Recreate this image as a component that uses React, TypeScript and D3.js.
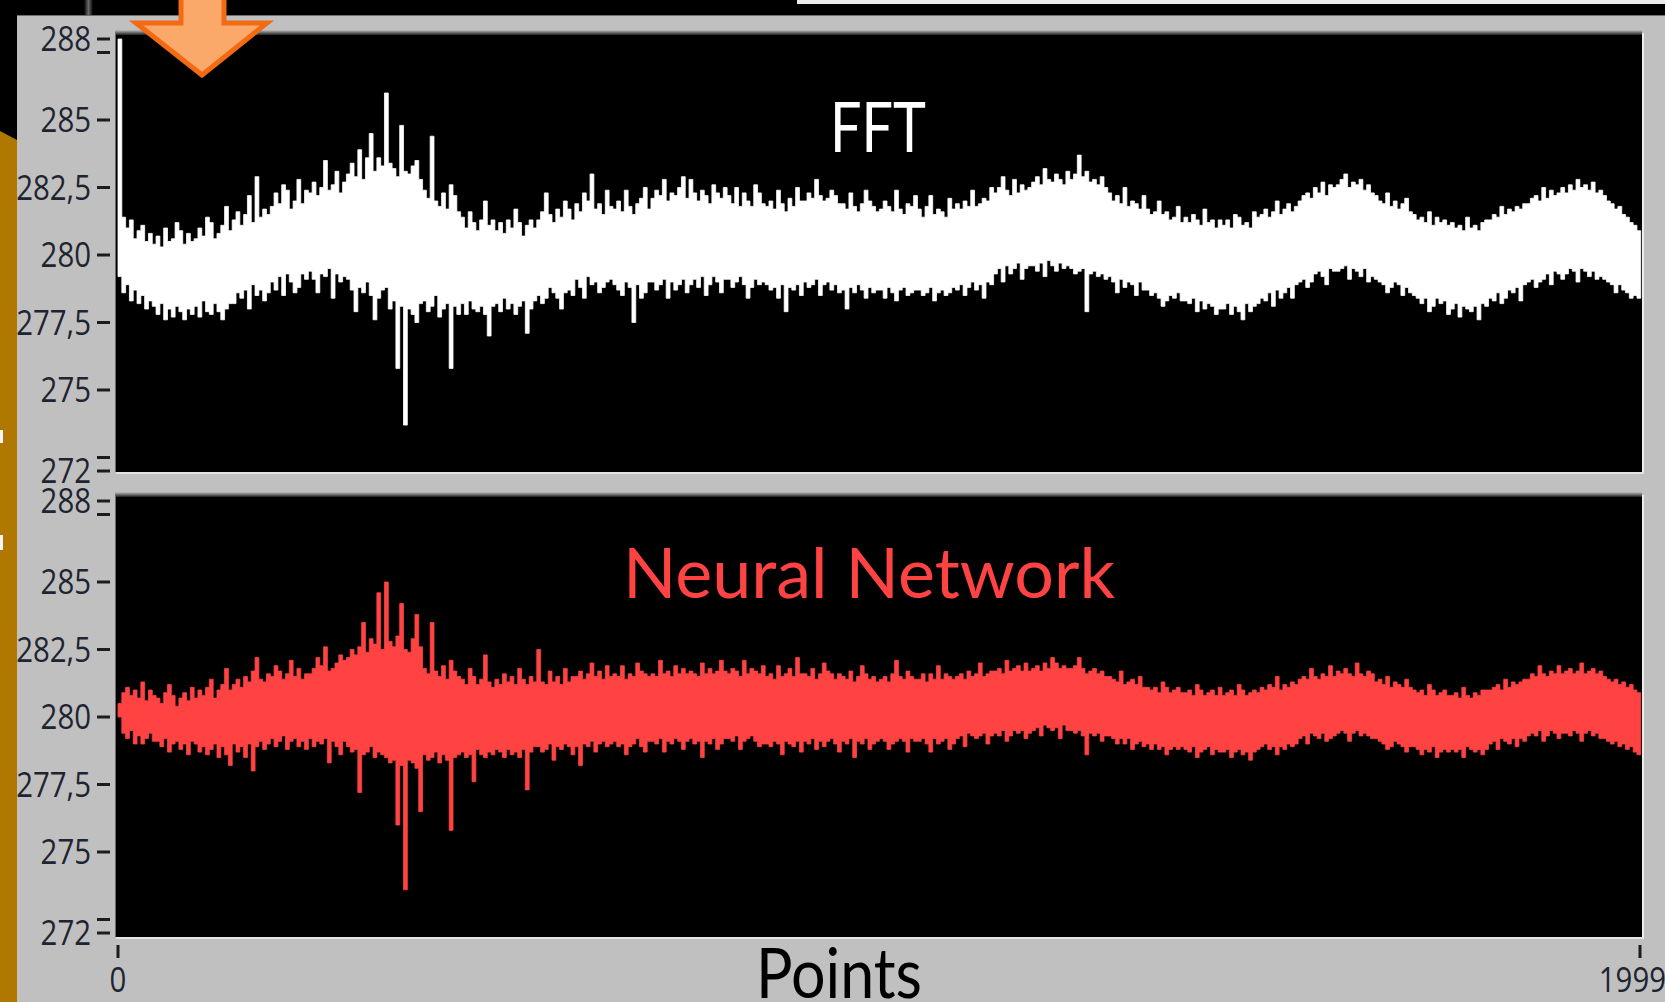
import React from 'react';
import * as d3 from 'd3';

// Each series is shown as LabVIEW draws 2000 points on ~1500 pixels:
// per bin of 5 points, the highest and lowest value.
const fftUpper: number[] = [
  288.0, 281.4, 281.0, 281.3, 280.6, 280.9, 281.1, 280.5, 280.8, 280.4,
  280.7, 280.3, 281.0, 280.5, 280.6, 281.2, 280.9, 280.4, 280.8, 280.5,
  280.6, 281.0, 280.7, 281.4, 281.2, 280.6, 280.8, 281.1, 281.8, 280.9,
  281.3, 281.6, 281.1, 281.5, 282.2, 281.2, 282.9, 281.4, 281.7, 281.5,
  281.8, 282.3, 281.9, 282.6, 282.4, 281.7, 282.0, 282.8, 281.9, 282.4,
  282.3, 282.7, 282.2, 282.5, 283.5, 282.4, 282.6, 283.1, 282.3, 282.7,
  283.0, 283.4, 282.9, 283.9, 282.8, 283.6, 284.5, 283.1, 283.6, 283.3,
  286.0, 283.4, 283.2, 282.9, 284.8, 283.1, 283.0, 283.3, 283.5, 282.8,
  282.4, 282.1, 284.4, 282.0, 281.8, 282.3, 281.7, 282.6, 282.2, 281.6,
  281.4, 281.0, 281.6, 281.2, 280.9, 281.3, 282.0, 281.1, 281.3, 280.9,
  281.2, 280.8, 281.3, 281.0, 281.7, 281.2, 280.7, 281.1, 281.3, 281.0,
  281.3, 281.6, 282.3, 281.5, 281.2, 281.7, 281.4, 282.0, 281.7, 281.3,
  281.9, 281.6, 282.3, 282.0, 283.0, 281.7, 281.9, 281.5, 282.4, 281.8,
  281.7, 282.0, 281.6, 282.4, 281.8, 281.5, 281.9, 282.1, 282.5, 281.7,
  282.1, 282.4, 282.2, 282.8, 282.0, 282.3, 282.2, 282.5, 282.9, 282.1,
  282.8, 282.3, 282.0, 282.4, 282.2, 281.9, 282.6, 282.3, 282.1, 282.5,
  282.2, 281.9, 282.5, 281.8, 282.3, 282.0, 281.8, 282.6, 282.3, 281.9,
  281.8, 282.0, 281.7, 282.4, 281.9, 281.6, 282.1, 281.8, 282.5, 282.0,
  282.0, 282.3, 282.1, 282.8, 282.2, 282.0, 282.1, 282.4, 282.2, 281.9,
  281.9, 281.7, 282.3, 281.8, 281.6, 281.9, 282.4, 282.0, 281.8, 281.6,
  281.7, 282.0, 281.8, 281.6, 282.4, 281.7, 281.5, 281.9, 281.8, 282.2,
  281.7, 281.4, 281.8, 282.2, 281.5, 281.7, 281.6, 281.4, 282.1, 281.7,
  281.9, 281.7, 282.0, 281.8, 282.4, 281.8, 281.9, 282.1, 282.0, 282.5,
  282.3, 282.5, 282.9, 282.4, 282.2, 282.8, 282.3, 282.6, 282.4, 282.5,
  282.7, 282.9, 282.6, 283.2, 282.8, 282.7, 283.0, 282.8, 282.6, 283.1,
  282.8, 283.0, 283.7, 282.9, 283.1, 282.7, 282.8, 282.6, 282.9, 282.5,
  282.3, 282.0, 282.2, 281.9, 282.5, 281.8, 282.0, 281.9, 281.7, 282.2,
  281.7, 281.5, 281.6, 282.0, 281.5, 281.6, 281.3, 281.4, 281.8, 281.2,
  281.4, 281.2, 281.5, 281.3, 281.1, 281.7, 281.2, 281.3, 281.0, 281.3,
  281.1, 281.3, 281.0, 281.5, 281.4, 281.1, 281.2, 281.0, 281.6, 281.4,
  281.5, 281.7, 281.4, 281.6, 282.0, 281.5, 281.7, 281.9, 281.6, 281.8,
  282.0, 282.2, 282.3, 282.1, 282.5, 282.3, 282.7, 282.2, 282.6, 282.5,
  282.6, 282.8, 283.0, 282.5, 282.7, 282.6, 282.8, 282.4, 282.6, 282.3,
  282.2, 282.0, 281.9, 282.3, 281.8, 282.0, 281.7, 281.9, 282.1, 281.6,
  281.5, 281.3, 281.4, 281.2, 281.6, 281.1, 281.4, 281.2, 281.3, 281.1,
  281.2, 281.0, 281.1, 280.9, 281.4, 281.0, 281.1, 280.9, 281.2, 281.3,
  281.3, 281.5, 281.4, 281.8, 281.5, 281.7, 281.6, 281.8, 281.7, 281.9,
  281.9, 282.1, 282.2, 282.0, 282.5, 282.1, 282.4, 282.2, 282.3, 282.5,
  282.3, 282.6, 282.4, 282.8, 282.5, 282.6, 282.4, 282.7, 282.3, 282.4,
  282.2, 282.0, 281.9, 281.7, 281.8, 281.5, 281.4, 281.2, 281.1, 280.9,
];

const fftLower: number[] = [
  279.2, 278.6, 278.9, 278.3, 278.7, 278.2, 278.5, 278.0, 278.3, 278.1,
  277.8, 278.2, 277.6, 278.0, 277.7, 278.1, 277.9, 277.6, 278.0, 277.8,
  278.1, 277.7, 278.3, 277.9, 277.8, 278.2, 277.9, 277.6, 278.0, 278.2,
  278.2, 278.6, 278.4, 278.7, 278.0, 278.9, 278.5, 278.7, 278.3, 278.6,
  279.0, 278.7, 279.2, 278.5, 279.3, 279.0, 278.6, 278.8, 279.3, 279.1,
  279.4, 279.1, 278.6, 279.3, 279.2, 279.5, 278.4, 279.3, 279.0, 279.2,
  279.1, 278.7, 277.9, 278.8, 278.6, 279.0, 278.5, 277.6, 278.4, 278.7,
  278.8, 278.0, 278.3, 275.8, 278.1, 273.7, 278.0, 277.8, 277.5, 278.2,
  278.3, 277.9, 278.1, 278.5, 277.7, 278.0, 278.2, 275.8, 278.1, 277.8,
  278.2, 277.8, 278.3, 278.0, 277.9, 278.1, 277.8, 277.0, 278.1, 278.2,
  277.9, 278.4, 278.0, 278.2, 277.8, 278.1, 278.3, 277.1, 278.0, 278.3,
  278.5, 278.2, 278.4, 278.8, 278.6, 278.4, 278.0, 278.6, 278.7, 278.5,
  279.1, 278.8, 278.4, 279.2, 278.9, 279.0, 278.6, 278.8, 279.0, 279.1,
  278.9, 278.7, 278.5, 279.0, 278.8, 277.5, 278.9, 278.4, 278.6, 279.0,
  279.0, 278.7, 278.9, 279.1, 278.4, 279.0, 278.7, 278.9, 279.1, 278.6,
  278.9, 279.1, 278.8, 279.2, 278.5, 278.9, 279.2, 279.0, 278.6, 279.1,
  279.1, 278.8, 279.0, 279.2, 278.9, 278.4, 278.8, 279.1, 278.9, 279.0,
  278.9, 278.7, 278.8, 278.4, 278.9, 277.9, 278.8, 278.7, 278.9, 278.5,
  279.0, 278.8, 278.9, 279.1, 278.5, 278.9, 279.0, 278.7, 278.9, 278.6,
  278.7, 278.0, 278.8, 278.6, 278.9, 278.7, 278.4, 278.8, 278.6, 278.7,
  278.7, 278.4, 278.8, 278.6, 278.3, 278.7, 278.8, 278.5, 278.6, 278.7,
  278.7, 278.5, 278.6, 278.8, 278.3, 278.6, 278.7, 278.5, 278.6, 278.8,
  278.7, 278.9, 278.5, 278.8, 279.0, 278.7, 278.9, 278.4, 279.0, 278.9,
  279.3, 279.5, 279.0, 279.6, 279.3, 279.5, 279.7, 279.1, 279.5, 279.6,
  279.6, 279.4, 279.7, 279.2, 279.8, 279.6, 279.4, 279.7, 279.5, 279.6,
  279.5, 279.3, 279.4, 279.5, 277.9, 279.3, 279.4, 279.2, 279.3, 279.1,
  279.2, 279.0, 278.6, 279.1, 278.8, 279.0, 278.9, 278.5, 279.0, 278.7,
  278.7, 278.5, 278.6, 278.4, 278.1, 278.3, 278.5, 278.4, 278.6, 278.3,
  278.3, 278.2, 278.4, 277.9, 278.3, 278.0, 278.2, 278.1, 277.8, 278.0,
  278.0, 278.2, 277.8, 278.1, 277.9, 277.6, 278.2, 277.9, 278.1, 278.2,
  278.4, 278.3, 278.6, 278.1, 278.7, 278.4, 278.6, 278.8, 278.4, 278.9,
  279.0, 279.1, 278.8, 279.0, 279.3, 279.4, 279.2, 278.9, 279.5, 279.4,
  279.4, 279.5, 279.6, 279.1, 279.5, 279.4, 279.2, 279.5, 279.0, 279.2,
  279.1, 279.0, 278.9, 278.6, 278.8, 279.0, 278.9, 278.5, 278.8, 278.6,
  278.5, 278.4, 278.2, 278.4, 277.9, 278.1, 278.4, 278.2, 278.3, 277.8,
  278.0, 278.2, 277.7, 278.1, 278.0, 277.9, 278.1, 277.6, 278.2, 278.1,
  278.4, 278.3, 278.6, 278.2, 278.4, 278.7, 278.6, 278.8, 278.3, 278.9,
  279.0, 279.1, 278.8, 279.0, 279.1, 279.3, 278.9, 279.4, 279.3, 279.1,
  279.3, 279.5, 279.4, 279.0, 279.5, 279.4, 279.2, 279.4, 279.1, 279.2,
  279.1, 279.0, 278.9, 278.6, 278.9, 278.7, 278.6, 278.4, 278.5, 278.4,
];

const nnUpper: number[] = [
  280.5, 280.9, 281.1, 280.8, 281.0, 280.7, 281.3, 280.6, 281.0, 280.8,
  280.7, 280.5, 280.9, 281.2, 280.8, 280.4, 280.7, 280.9, 280.6, 281.1,
  280.7, 281.0, 280.8, 281.1, 281.4, 280.7, 281.0, 281.2, 281.8, 281.0,
  281.2, 281.4, 281.1, 281.5, 281.3, 281.7, 282.2, 281.4, 281.3, 281.6,
  281.5, 281.9, 281.7, 281.4, 281.6, 282.1, 281.5, 281.8, 281.4, 281.6,
  281.6, 281.8, 282.2, 281.9, 282.6, 281.7, 281.8, 282.0, 282.3, 282.1,
  282.2, 282.5, 282.3, 282.6, 283.5, 282.4, 282.9, 282.7, 284.6, 282.5,
  285.0, 282.8, 282.6, 283.0, 284.2, 282.5, 282.4, 282.9, 283.8, 282.6,
  281.8, 281.6, 283.5, 281.7, 281.5, 281.9, 281.4, 282.1, 281.7, 281.5,
  281.4, 281.2, 281.8, 281.5, 281.2, 281.4, 282.3, 281.3, 281.1, 281.4,
  281.2, 281.6, 281.3, 281.5, 281.2, 281.8, 281.4, 281.2, 281.5, 281.3,
  282.5, 281.3, 281.2, 281.7, 281.3, 281.5, 281.2, 281.8, 281.3, 281.5,
  281.5, 281.7, 281.4, 281.6, 282.0, 281.5, 281.7, 281.4, 281.9, 281.5,
  281.6, 281.5, 281.9, 281.4, 281.6, 281.5, 282.0, 281.7, 281.6, 281.5,
  281.6, 281.5, 282.1, 281.6, 281.7, 281.5, 281.9, 281.6, 281.8, 281.6,
  281.7, 281.6, 281.5, 282.0, 281.6, 281.8, 281.6, 281.7, 282.1, 281.7,
  281.6, 281.8, 281.7, 281.5, 282.1, 281.6, 281.8, 281.7, 281.6, 281.9,
  281.5, 281.6, 281.4, 281.9, 281.5, 281.6, 281.8, 281.5, 282.2, 281.6,
  281.6, 281.5, 281.8, 281.4, 281.6, 282.0, 281.7, 281.6, 281.4, 281.6,
  281.5, 281.4, 281.7, 281.3, 281.5, 281.9, 281.6, 281.4, 281.5, 281.3,
  281.4, 281.5, 281.3, 281.6, 282.1, 281.5, 281.4, 281.7, 281.5, 281.4,
  281.4, 281.6, 281.3, 281.6, 281.4, 281.9, 281.4, 281.6, 281.5, 281.4,
  281.5, 281.6, 281.4, 281.7, 281.5, 281.6, 282.0, 281.5, 281.6, 281.7,
  281.7, 281.8, 281.6, 282.1, 281.7, 281.8, 281.9, 281.7, 282.0, 281.7,
  281.8, 281.9, 281.7, 282.0, 281.8, 282.2, 282.0, 281.8, 281.9, 281.8,
  281.8, 281.9, 282.2, 281.8, 281.6, 281.7, 281.8, 281.6, 281.7, 281.5,
  281.5, 281.4, 281.3, 281.7, 281.2, 281.3, 281.4, 281.2, 281.5, 281.1,
  281.1, 281.0, 281.1, 280.9, 281.3, 281.1, 280.9, 281.0, 281.1, 280.9,
  280.9, 281.0, 280.8, 281.2, 281.0, 280.8, 280.9, 281.0, 280.8, 281.1,
  280.8, 280.9, 281.0, 280.8, 281.2, 281.0, 280.8, 280.9, 281.0, 280.9,
  281.1, 281.0, 281.2, 281.1, 281.5, 281.0, 281.2, 281.1, 281.3, 281.2,
  281.4, 281.5, 281.4, 281.8, 281.5, 281.4, 281.6, 281.5, 281.9, 281.5,
  281.7, 281.6, 281.8, 281.6, 281.5, 282.0, 281.6, 281.5, 281.7, 281.6,
  281.3, 281.4, 281.2, 281.5, 281.1, 281.3, 281.2, 281.1, 281.4, 281.1,
  281.0, 280.9, 281.0, 280.8, 281.2, 281.0, 280.8, 280.9, 281.0, 280.8,
  280.8, 280.9, 280.7, 281.1, 280.8, 280.7, 280.9, 280.8, 281.0, 281.0,
  281.0, 281.1, 281.2, 281.0, 281.4, 281.1, 281.3, 281.2, 281.3, 281.4,
  281.4, 281.6, 281.5, 281.9, 281.6, 281.5, 281.7, 281.6, 281.9, 281.6,
  281.7, 281.8, 281.6, 281.7, 282.0, 281.6, 281.7, 281.8, 281.6, 281.7,
  281.5, 281.4, 281.3, 281.4, 281.2, 281.3, 281.1, 281.2, 281.0, 280.9,
];

const nnLower: number[] = [
  280.0, 279.4, 279.2, 279.5, 279.0, 279.3, 279.0, 279.2, 279.4, 279.1,
  279.1, 278.9, 279.2, 278.7, 279.0, 279.1, 278.8, 279.0, 278.6, 279.1,
  279.0, 278.7, 278.9, 278.6, 278.8, 279.0, 278.5, 278.9, 278.6, 278.2,
  279.0, 278.7, 278.9, 278.5, 279.0, 278.0, 278.9, 279.1, 278.8, 279.0,
  279.2, 278.9, 279.1, 279.3, 278.8, 279.1, 279.2, 278.9, 279.1, 278.8,
  279.2, 278.9, 279.1, 279.0, 279.2, 278.3, 279.1, 278.9, 278.6, 279.1,
  278.9, 278.7, 278.8, 277.2, 278.6, 278.7, 278.9, 278.5, 278.7, 278.6,
  278.5, 278.3, 278.4, 276.0, 278.2, 273.6, 278.4, 278.3, 278.1, 276.5,
  278.6, 278.4, 278.5, 278.7, 278.3, 278.6, 278.4, 275.8, 278.5, 278.6,
  278.7, 278.5, 278.6, 277.6, 278.8, 278.6, 278.5, 278.7, 278.6, 278.8,
  278.7, 278.5, 278.8, 278.6, 278.7, 278.5, 278.8, 277.3, 278.7, 278.9,
  278.9, 278.7, 278.8, 279.0, 278.4, 278.9, 278.8, 279.0, 278.9, 278.6,
  278.9, 278.2, 279.0, 278.9, 279.1, 278.7, 279.0, 279.1, 278.9, 279.0,
  279.1, 278.9, 279.0, 278.6, 278.9, 279.0, 279.2, 278.9, 278.7, 279.1,
  279.1, 279.0, 279.2, 278.7, 279.1, 279.0, 279.2, 279.1, 278.8, 279.1,
  279.2, 279.0, 279.1, 278.5, 279.1, 279.0, 279.2, 278.8, 279.0, 279.2,
  279.2, 279.1, 279.3, 278.8, 279.1, 279.2, 279.3, 279.1, 278.9, 279.0,
  279.0, 278.9, 279.1, 279.0, 278.6, 279.1, 279.0, 278.9, 279.1, 278.7,
  279.1, 279.0, 279.2, 278.8, 279.1, 278.9, 279.1, 279.2, 279.0, 278.7,
  279.1, 279.0, 279.2, 278.5, 279.1, 279.0, 279.2, 278.8, 279.0, 279.1,
  279.2, 279.1, 278.8, 279.0, 279.1, 279.2, 279.1, 278.7, 279.2, 279.1,
  279.1, 279.2, 279.0, 278.7, 279.2, 279.0, 279.1, 279.2, 278.8, 279.0,
  279.2, 279.3, 278.9, 279.4, 279.3, 279.2, 279.3, 279.4, 279.0, 279.3,
  279.4, 279.3, 279.5, 279.1, 279.3, 279.5, 279.4, 279.5, 279.2, 279.4,
  279.5, 279.6, 279.3, 279.7, 279.6, 279.5, 279.6, 279.2, 279.7, 279.5,
  279.5, 279.4, 279.5, 279.3, 278.6, 279.4, 279.3, 279.4, 279.1, 279.3,
  279.3, 279.2, 279.0, 279.2, 279.0, 279.2, 278.8, 279.0, 279.1, 278.9,
  279.0, 278.8, 279.0, 278.8, 278.9, 278.6, 278.8, 278.9, 278.8, 278.9,
  278.8, 278.7, 278.9, 278.5, 278.7, 278.8, 278.9, 278.6, 278.8, 278.7,
  278.7, 278.8, 278.5, 278.7, 278.8, 278.6, 278.7, 278.4, 278.7, 278.8,
  278.9, 279.0, 278.8, 278.9, 278.6, 278.9, 278.8, 279.0, 278.9, 279.0,
  279.2, 279.3, 279.0, 279.4, 279.3, 279.2, 279.4, 279.1, 279.2, 279.3,
  279.4, 279.5, 279.4, 279.1, 279.4, 279.5, 279.3, 279.4, 279.3, 279.2,
  279.2, 279.1, 279.0, 278.8, 278.9, 279.1, 279.0, 278.9, 278.7, 278.9,
  278.9, 278.8, 278.6, 278.8, 278.7, 278.9, 278.5, 278.7, 278.8, 278.7,
  278.8, 278.7, 278.8, 278.5, 278.9, 278.8, 278.7, 278.8, 278.6, 278.8,
  279.0, 279.1, 278.8, 279.2, 279.1, 279.0, 279.2, 278.9, 279.2, 279.1,
  279.3, 279.4, 279.3, 279.5, 279.1, 279.3, 279.5, 279.4, 279.2, 279.4,
  279.4, 279.3, 279.5, 279.4, 279.1, 279.4, 279.5, 279.3, 279.4, 279.2,
  279.2, 279.1, 279.0, 279.1, 278.9, 279.0, 278.8, 278.9, 278.7, 278.6,
];

const xDomain: [number, number] = [0, 1999];
const pointCount = 2000;
const yDomain: [number, number] = [272, 288];
const yTickValues = [288, 285, 282.5, 280, 277.5, 275, 272];
const yTickLabels = ['288', '285', '282,5', '280', '277,5', '275', '272'];
const yMinorTickValues = [287.5, 272.5];
const xTickValues = [0, 1999];
const xTickLabels = ['0', '1999'];
const seriesTitles = ['FFT', 'Neural Network'];
const xAxisTitle = 'Points';

const W = 1665;
const H = 1002;
const PLOT_LEFT = 116;
const PLOT_RIGHT = 1642;

type Bin = { i: number; hi: number; lo: number };

export default function App() {
  const x = d3.scaleLinear().domain(xDomain).range([118, 1640]);

  const panels = [
    { top: 35, bottom: 472, upper: fftUpper, lower: fftLower, color: '#ffffff', title: seriesTitles[0], titleX: 878, titleY: 152, titleLen: 96 },
    { top: 497, bottom: 937, upper: nnUpper, lower: nnLower, color: '#ff4343', title: seriesTitles[1], titleX: 869, titleY: 598, titleLen: 492 },
  ];

  const labelFont = "'Segoe UI', 'Open Sans', sans-serif";
  const titleFont = "Futura, 'Century Gothic', Lato, sans-serif";

  const tickLabel = (tx: number, ty: number, s: string, anchor: string, key: string) => (
    <text
      key={key}
      transform={`translate(${tx},${ty}) scale(0.84,1)`}
      textAnchor={anchor}
      fontFamily={labelFont}
      fontSize={35}
      fill="#1e2430"
    >
      {s}
    </text>
  );

  return (
    <svg width={W} height={H} style={{ position: 'absolute', left: 0, top: 0, display: 'block' }}>
      <defs>
        <linearGradient id="topShade" x1="0" y1="0" x2="0" y2="1">
          <stop offset="0" stopColor="#c0c0c0" />
          <stop offset="1" stopColor="#000000" />
        </linearGradient>
        <linearGradient id="glow" x1="0" y1="0" x2="1" y2="0">
          <stop offset="0" stopColor="#000" />
          <stop offset="0.5" stopColor="#6a6a6a" />
          <stop offset="1" stopColor="#000" />
        </linearGradient>
        {panels.map((p, k) => (
          <clipPath id={`clip${k}`} key={k}>
            <rect x={PLOT_LEFT} y={p.top} width={PLOT_RIGHT - PLOT_LEFT} height={p.bottom - p.top} />
          </clipPath>
        ))}
      </defs>

      {/* slide background */}
      <rect x={0} y={0} width={W} height={H} fill="#000" />
      <rect x={797} y={0} width={W - 797} height={4} fill="#ececec" />
      <rect x={84} y={0} width={9} height={15} fill="url(#glow)" />

      {/* LabVIEW panel */}
      <rect x={17} y={15} width={W - 17} height={H - 15} fill="#c0c0c0" />
      <line x1={17} x2={W} y1={15.5} y2={15.5} stroke="#6e6e6e" strokeWidth={1} />

      {panels.map((p, k) => {
        const y = d3.scaleLinear().domain(yDomain).range([p.top + 436, p.top + 4]);
        const n = p.upper.length;
        const binSize = pointCount / n;
        const bins: Bin[] = d3.range(n + 1).map((i) => ({
          i: i * binSize,
          hi: p.upper[Math.min(i, n - 1)],
          lo: p.lower[Math.min(i, n - 1)],
        }));
        const area = d3
          .area<Bin>()
          .x((d) => x(d.i))
          .y0((d) => y(d.lo))
          .y1((d) => y(d.hi))
          .curve(d3.curveStepAfter);
        return (
          <g key={k}>
            <rect x={PLOT_LEFT - 1} y={p.top - 5} width={PLOT_RIGHT - PLOT_LEFT + 1} height={6} fill="url(#topShade)" />
            <rect x={PLOT_LEFT} y={p.top} width={PLOT_RIGHT - PLOT_LEFT} height={p.bottom - p.top} fill="#000" />
            <line x1={PLOT_LEFT - 0.5} x2={PLOT_LEFT - 0.5} y1={p.top - 2} y2={p.bottom} stroke="#6a6a6a" strokeWidth={1} />
            <line x1={PLOT_RIGHT + 1} x2={PLOT_RIGHT + 1} y1={p.top - 2} y2={p.bottom + 2} stroke="#ececec" strokeWidth={2} />
            <line x1={PLOT_LEFT} x2={PLOT_RIGHT + 2} y1={p.bottom + 1} y2={p.bottom + 1} stroke="#e4e4e4" strokeWidth={2} />

            <g clipPath={`url(#clip${k})`}>
              <path d={area(bins) || ''} fill={p.color} stroke={p.color} strokeWidth={0.8} />
            </g>

            <text
              x={p.titleX}
              y={p.titleY}
              fill={p.color}
              fontFamily={titleFont}
              fontSize={70}
              textAnchor="middle"
              textLength={p.titleLen}
              lengthAdjust="spacingAndGlyphs"
            >
              {p.title}
            </text>

            {/* y axis */}
            {yTickValues.map((v, i) => (
              <line key={`t${i}`} x1={97} x2={110} y1={y(v)} y2={y(v)} stroke="#1c1c1c" strokeWidth={3} />
            ))}
            {yMinorTickValues.map((v, i) => (
              <line key={`m${i}`} x1={97} x2={110} y1={y(v)} y2={y(v)} stroke="#1c1c1c" strokeWidth={3} />
            ))}
            {yTickValues.map((v, i) => tickLabel(91, y(v) + 12, yTickLabels[i], 'end', `l${i}`))}
          </g>
        );
      })}

      {/* x axis */}
      {xTickValues.map((v, i) => (
        <line key={`xt${i}`} x1={x(v)} x2={x(v)} y1={945} y2={958} stroke="#1c1c1c" strokeWidth={3} />
      ))}
      {tickLabel(x(xTickValues[0]), 992, xTickLabels[0], 'middle', 'x0')}
      {tickLabel(W + 1, 992, xTickLabels[1], 'end', 'x1')}
      <text
        x={839}
        y={998}
        textAnchor="middle"
        fontFamily={titleFont}
        fontSize={70}
        fill="#000"
        textLength={166}
        lengthAdjust="spacingAndGlyphs"
      >
        {xAxisTitle}
      </text>

      {/* golden slide band at the left edge */}
      <path d={`M0,131 L17,140 L17,${H} L0,${H} Z`} fill="#b07800" />
      <rect x={0} y={430} width={3} height={13} fill="#f4f4f4" />
      <rect x={0} y={535} width={3} height={15} fill="#f4f4f4" />

      {/* orange arrow */}
      <path
        d="M181,-6 L181,23 L136,23 L202,75 L267,23 L224,23 L224,-6 Z"
        fill="#fba96b"
        stroke="#f26b12"
        strokeWidth={5}
        strokeLinejoin="miter"
      />
    </svg>
  );
}
